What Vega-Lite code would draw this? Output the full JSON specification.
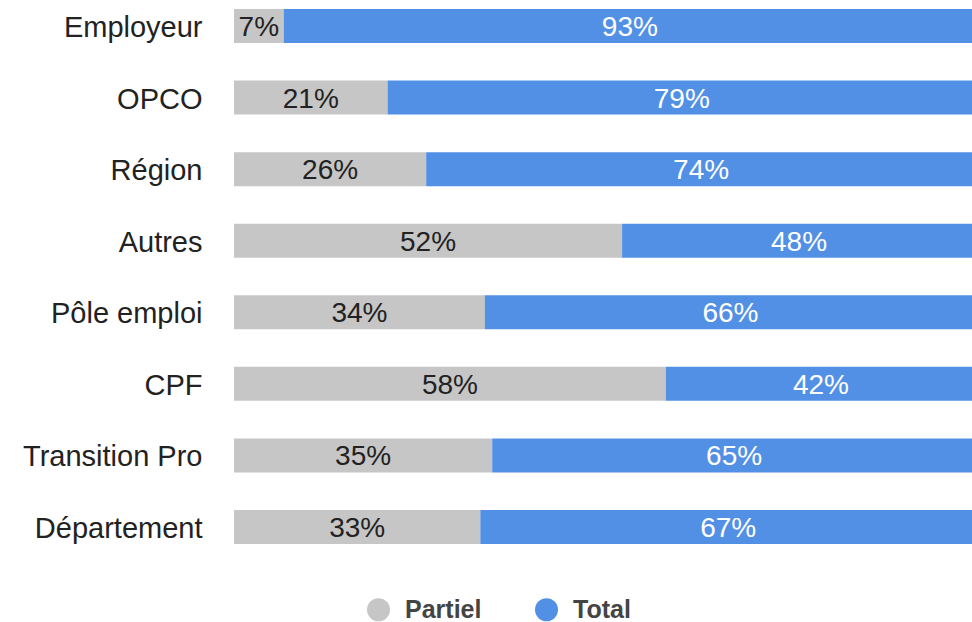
{
  "$schema": "https://vega.github.io/schema/vega-lite/v6.json",
  "width": 738,
  "height": 553,
  "autosize": {"type": "none"},
  "padding": {"left": 234, "top": 0, "right": 0, "bottom": 69},
  "background": "white",
  "config": {"view": {"stroke": null}, "font": "Liberation Sans"},
  "data": {
    "values": [
      {"cat": "Employeur", "type": "Partiel", "pct": 0.067},
      {"cat": "Employeur", "type": "Total", "pct": 0.933},
      {"cat": "OPCO", "type": "Partiel", "pct": 0.207},
      {"cat": "OPCO", "type": "Total", "pct": 0.793},
      {"cat": "Région", "type": "Partiel", "pct": 0.259},
      {"cat": "Région", "type": "Total", "pct": 0.741},
      {"cat": "Autres", "type": "Partiel", "pct": 0.523},
      {"cat": "Autres", "type": "Total", "pct": 0.477},
      {"cat": "Pôle emploi", "type": "Partiel", "pct": 0.338},
      {"cat": "Pôle emploi", "type": "Total", "pct": 0.662},
      {"cat": "CPF", "type": "Partiel", "pct": 0.582},
      {"cat": "CPF", "type": "Total", "pct": 0.418},
      {"cat": "Transition Pro", "type": "Partiel", "pct": 0.348},
      {"cat": "Transition Pro", "type": "Total", "pct": 0.652},
      {"cat": "Département", "type": "Partiel", "pct": 0.332},
      {"cat": "Département", "type": "Total", "pct": 0.668}
    ]
  },
  "transform": [
    {"stack": "pct", "groupby": ["cat"], "sort": [{"field": "type", "order": "ascending"}], "as": ["v0", "v1"]}
  ],
  "encoding": {
    "y": {
      "field": "cat",
      "type": "nominal",
      "sort": ["Employeur", "OPCO", "Région", "Autres", "Pôle emploi", "CPF", "Transition Pro", "Département"],
      "title": null,
      "scale": {"paddingInner": 0.525, "paddingOuter": 0.126},
      "axis": {
        "domain": false,
        "ticks": false,
        "labelPadding": 32,
        "labelOffset": 2,
        "labelFontSize": 29,
        "labelColor": "#222222",
        "labelFont": "Liberation Sans"
      }
    }
  },
  "layer": [
    {
      "mark": {"type": "bar", "clip": true},
      "encoding": {
        "x": {
          "field": "v0",
          "type": "quantitative",
          "scale": {"domain": [0, 0.9946], "nice": false, "zero": true},
          "axis": null
        },
        "x2": {"field": "v1"},
        "color": {
          "field": "type",
          "type": "nominal",
          "scale": {"domain": ["Partiel", "Total"], "range": ["#c6c6c6", "#5290e6"]},
          "legend": {
            "title": null,
            "orient": "none",
            "direction": "horizontal",
            "legendX": 132,
            "legendY": 597,
            "padding": 0,
            "symbolType": "circle",
            "symbolSize": 530,
            "symbolStrokeWidth": 0,
            "labelFontSize": 25,
            "labelFontWeight": "bold",
            "labelColor": "#444444",
            "labelFont": "Liberation Sans",
            "labelOffset": 14,
            "columnPadding": 52
          }
        }
      }
    },
    {
      "transform": [
        {"fold": ["v0", "v1"], "as": ["edge", "pos"]},
        {"aggregate": [{"op": "mean", "field": "pos", "as": "mid"}], "groupby": ["cat", "type", "pct"]}
      ],
      "mark": {"type": "text", "fontSize": 28, "font": "Liberation Sans", "align": "center", "baseline": "middle", "dy": 2},
      "encoding": {
        "x": {"field": "mid", "type": "quantitative", "scale": {"domain": [0, 0.9946], "nice": false}, "axis": null},
        "text": {"field": "pct", "type": "quantitative", "format": ".0%"},
        "color": {
          "condition": {"test": "datum.type === 'Total'", "value": "#ffffff"},
          "value": "#222222"
        }
      }
    }
  ]
}
